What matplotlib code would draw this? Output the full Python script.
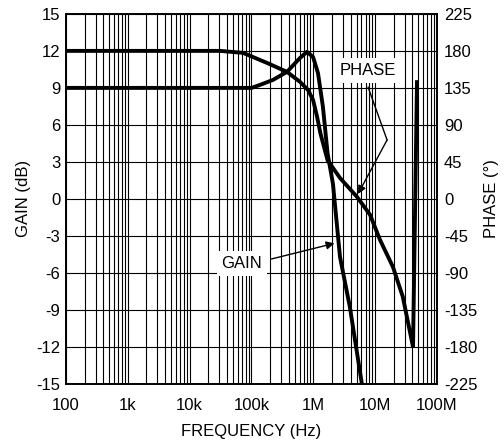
import numpy as np
import matplotlib
matplotlib.use('Agg')
import matplotlib.pyplot as plt
from matplotlib.ticker import LogLocator, FixedLocator, FixedFormatter, NullFormatter

plt.rcParams['font.family'] = ['Liberation Sans', 'DejaVu Sans']

# gain curve (Hz, dB)
gain_freq = [100, 1e3, 1e4, 1e5, 1.37e5, 2.23e5, 3.75e5, 6.1e5, 7.9e5, 9.9e5,
             1.19e6, 1.43e6, 1.7e6, 2.08e6, 2.7e6, 3.9e6, 6.1e6]
gain_db = [9, 9, 9, 9, 9.24, 9.65, 10.3, 11.43, 11.92, 11.51,
           10.2, 7.46, 3.7, 1.2, -4.7, -8.76, -15]

# phase curve (Hz, degrees)
phase_freq = [100, 1e3, 1e4, 3.1e4, 7.3e4, 1.78e5, 3.75e5, 6.1e5, 8.2e5, 9.9e5,
              1.15e6, 1.3e6, 1.7e6, 2.7e6, 5.1e6, 8.3e6, 1.2e7, 1.94e7, 2.8e7,
              4.1e7, 4.75e7]
phase_deg = [180, 180, 180, 180, 177.6, 165.4, 154.5, 142.3, 132.6, 120.4,
             100, 80, 47, 25.5, 2.4, -19.5, -49.9, -82.7, -119,
             -180, 142]

gain_ticks = [-15, -12, -9, -6, -3, 0, 3, 6, 9, 12, 15]
phase_ticks = [-225, -180, -135, -90, -45, 0, 45, 90, 135, 180, 225]
freq_ticks = [1e2, 1e3, 1e4, 1e5, 1e6, 1e7, 1e8]
freq_labels = ['100', '1k', '10k', '100k', '1M', '10M', '100M']

FS = 12

fig = plt.figure(figsize=(5.04, 4.48), dpi=100)
ax = fig.add_axes([0.131, 0.143, 0.736, 0.826])
ax2 = ax.twinx()

ax.set_xscale('log')
ax.set_xlim(1e2, 1e8)
ax.set_ylim(-15, 15)
ax2.set_ylim(-225, 225)

ax.xaxis.set_major_locator(FixedLocator(freq_ticks))
ax.xaxis.set_major_formatter(FixedFormatter(freq_labels))
ax.xaxis.set_minor_locator(LogLocator(base=10, subs=np.arange(2, 10)))
ax.xaxis.set_minor_formatter(NullFormatter())
ax.set_yticks(gain_ticks)
ax.set_yticklabels([str(t) for t in gain_ticks])
ax2.set_yticks(phase_ticks)
ax2.set_yticklabels([str(t) for t in phase_ticks])

ax.grid(True, which='both', color='black', linewidth=0.8)
ax.set_axisbelow(True)

for a in (ax, ax2):
    a.tick_params(which='both', length=0, labelsize=FS, colors='black')
    for s in a.spines.values():
        s.set_linewidth(1.2)
        s.set_color('black')
ax.tick_params(axis='y', pad=4)
ax.tick_params(axis='x', pad=10)
ax2.tick_params(axis='y', pad=5)

ax.plot(gain_freq, gain_db, color='black', lw=2.8, solid_capstyle='butt', zorder=3)
ax2.plot(phase_freq, phase_deg, color='black', lw=2.8, solid_joinstyle='miter', zorder=3)

ax.set_xlabel('FREQUENCY (Hz)', fontsize=FS, labelpad=8)
ax.set_ylabel('GAIN (dB)', fontsize=FS, labelpad=4)
ax2.set_ylabel('PHASE (°)', fontsize=FS, labelpad=5)

# annotations
box = dict(boxstyle='square,pad=0.3', facecolor='white', edgecolor='none')
ax.text(7.6e6, 10.45, 'PHASE', ha='center', va='center', fontsize=FS, bbox=box, zorder=4)
ax.plot([7.7e6, 1.56e7], [9.05, 4.78], color='black', lw=1, zorder=4)
ax.annotate('', xy=(5.28e6, 0.4), xytext=(1.56e7, 4.78),
            arrowprops=dict(arrowstyle='-|>', color='black', lw=1,
                            mutation_scale=12, shrinkA=0, shrinkB=0), zorder=4)

ax.text(7.0e4, -5.2, 'GAIN', ha='center', va='center', fontsize=FS, bbox=box, zorder=4)
ax.annotate('', xy=(2.2e6, -3.6), xytext=(2.1e5, -4.87),
            arrowprops=dict(arrowstyle='-|>', color='black', lw=1,
                            mutation_scale=12, shrinkA=0, shrinkB=0), zorder=4)

fig.savefig('out.png', dpi=100, facecolor='white')
